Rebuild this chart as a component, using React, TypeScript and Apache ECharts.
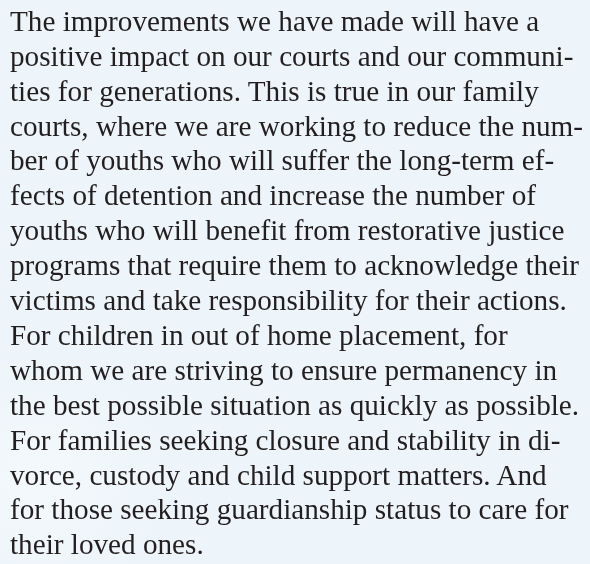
import React, { useEffect, useRef } from "react";
import * as echarts from "echarts";

const lines: string[] = [
  "The improvements we have made will have a",
  "positive impact on our courts and our communi-",
  "ties for generations. This is true in our family",
  "courts, where we are working to reduce the num-",
  "ber of youths who will suffer the long-term ef-",
  "fects of detention and increase the number of",
  "youths who will benefit from restorative justice",
  "programs that require them to acknowledge their",
  "victims and take responsibility for their actions.",
  "For children in out of home placement, for",
  "whom we are striving to ensure permanency in",
  "the best possible situation as quickly as possible.",
  "For families seeking closure and stability in di-",
  "vorce, custody and child support matters. And",
  "for those seeking guardianship status to care for",
  "their loved ones.",
];

export default function App() {
  const ref = useRef<HTMLDivElement>(null);
  useEffect(() => {
    if (!ref.current) return;
    const chart = echarts.init(ref.current, undefined, { renderer: "svg" });
    const firstMiddle = 20.8;
    const step = 34.9;
    const elements: any[] = [
      {
        type: "rect",
        shape: { x: 0, y: 0, width: 590, height: 564 },
        style: { fill: "#edf5fa" },
        silent: true,
      },
      {
        type: "circle",
        shape: { cx: 40, cy: 480, r: 140 },
        style: {
          fill: new echarts.graphic.RadialGradient(0.5, 0.5, 0.5, [
            { offset: 0, color: "rgba(255,255,255,0.35)" },
            { offset: 1, color: "rgba(255,255,255,0)" },
          ]),
        },
        silent: true,
      },
    ];
    lines.forEach((t, i) => {
      elements.push({
        type: "text",
        x: 10,
        y: firstMiddle + i * step,
        style: {
          text: t,
          fill: "#231f20",
          font: "29.2px 'Liberation Serif'",
          textAlign: "left",
          textVerticalAlign: "middle",
        },
      });
    });
    chart.setOption({ animation: false, graphic: { elements } });
    return () => chart.dispose();
  }, []);
  return (
    <div
      ref={ref}
      style={{ position: "fixed", left: 0, top: 0, width: 590, height: 564 }}
    />
  );
}
